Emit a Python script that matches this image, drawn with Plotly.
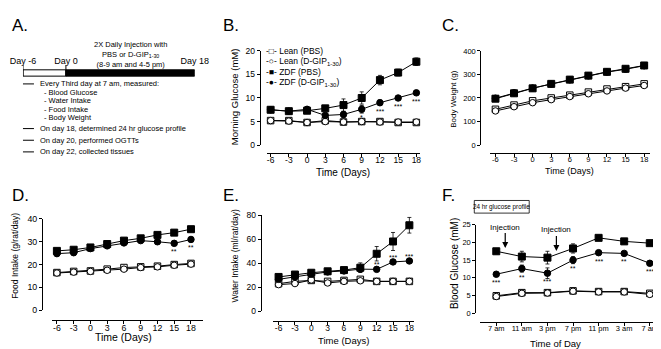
import plotly.graph_objects as go

W, H = 661, 349
FONT = "Liberation Sans, Arial, sans-serif"


def px(x):
    return x / W


def py(y):
    return 1 - y / H


# ---------------- data ----------------
days = [-6, -3, 0, 3, 6, 9, 12, 15, 18]
day_ticklabels = ["-6", "-3", "0", "3", "6", "9", "12", "15", "18"]
series_names = ["Lean (PBS)", "Lean (D-GIP<sub>1-30</sub>)", "ZDF (PBS)", "ZDF (D-GIP<sub>1-30</sub>)"]
legend_glyphs = ["-\u25A1-", "-\u25CB-", "-\u25A0-", "-\u25CF-"]

# B. Morning glucose (mM)
glu_lean_pbs = [5.2, 5.2, 4.8, 5.2, 4.9, 5.0, 5.0, 4.8, 4.8]
glu_lean_gip = [5.2, 5.1, 4.8, 5.0, 4.9, 5.0, 4.9, 4.9, 4.9]
glu_zdf_pbs = [7.5, 7.2, 7.3, 7.8, 8.5, 10.0, 13.8, 15.4, 17.7]
glu_zdf_gip = [7.5, 7.2, 7.6, 6.3, 6.5, 7.6, 9.0, 10.0, 11.1]
glu_err_lean_pbs = [0.2, 0.2, 0.2, 0.2, 0.2, 0.2, 0.2, 0.2, 0.2]
glu_err_lean_gip = [0.2, 0.2, 0.2, 0.2, 0.2, 0.2, 0.2, 0.2, 0.2]
glu_err_zdf_pbs = [0.3, 0.3, 0.5, 0.4, 1.3, 1.3, 1.0, 0.7, 0.8]
glu_err_zdf_gip = [0.3, 0.3, 0.3, 0.5, 0.6, 0.8, 0.6, 0.4, 0.4]
glu_stars = ["", "", "", "", "", "*", "***", "***", "***"]

# C. Body weight (g)
bw_lean_pbs = [152, 170, 188, 200, 212, 225, 238, 248, 260]
bw_lean_gip = [145, 163, 180, 193, 206, 218, 230, 242, 253]
bw_zdf_pbs = [197, 220, 241, 260, 278, 295, 311, 324, 338]
bw_zdf_gip = [199, 222, 242, 259, 277, 294, 310, 322, 337]
bw_err_lean = [4, 4, 4, 4, 4, 4, 4, 4, 4]
bw_err_zdf = [5, 5, 5, 5, 5, 5, 5, 5, 6]

# D. Food intake (g/rat/day)
fi_lean_pbs = [16.5, 17.0, 17.2, 18.0, 18.7, 19.0, 19.3, 20.0, 20.5]
fi_lean_gip = [16.3, 16.7, 17.0, 17.5, 18.0, 18.7, 19.0, 19.7, 20.2]
fi_zdf_pbs = [26.0, 26.5, 27.5, 29.0, 30.5, 31.5, 33.0, 34.0, 35.5]
fi_zdf_gip = [24.8, 25.2, 27.0, 28.2, 29.5, 30.5, 30.0, 29.3, 31.0]
fi_err_lean = [0.5, 0.5, 0.5, 0.5, 0.5, 0.5, 0.5, 0.5, 0.5]
fi_err_zdf = [1.0, 1.0, 1.0, 1.0, 1.0, 1.0, 1.0, 1.0, 1.0]
fi_stars = ["", "", "", "", "", "", "", "**", "**"]

# E. Water intake (ml/rat/day)
wi_lean_pbs = [22.9, 24.8, 25.6, 24.8, 25.6, 26.5, 24.8, 24.8, 24.8]
wi_lean_gip = [22.1, 23.0, 26.0, 23.5, 24.8, 25.3, 24.8, 24.8, 24.8]
wi_zdf_pbs = [28.5, 30.5, 32.0, 33.2, 34.2, 36.2, 47.8, 58.0, 71.5]
wi_zdf_gip = [26.5, 28.5, 30.8, 32.7, 33.5, 35.0, 34.8, 41.0, 41.8]
wi_err_lean = [1.0, 1.0, 1.0, 1.0, 1.0, 1.0, 1.0, 1.0, 1.0]
wi_err_zdf_pbs = [1.5, 1.5, 1.5, 1.5, 2.0, 4.0, 6.0, 7.5, 6.5]
wi_err_zdf_gip = [1.0, 1.0, 1.0, 1.0, 1.0, 1.5, 1.5, 1.5, 1.5]
wi_stars = ["", "", "", "", "", "", "**", "***", "***"]

# F. 24 hr glucose profile (mM)
times = ["7 am", "11 am", "3 pm", "7 pm", "11 pm", "3 am", "7 am"]
time_pos = [0, 1, 2, 3, 4, 5, 6]
f_lean_pbs = [4.9, 5.8, 5.8, 6.3, 6.1, 6.1, 5.6]
f_lean_gip = [4.7, 5.6, 5.7, 6.2, 6.0, 6.0, 5.3]
f_zdf_pbs = [17.5, 16.0, 15.7, 18.3, 21.3, 20.3, 19.8]
f_zdf_gip = [11.0, 12.6, 11.3, 15.0, 17.1, 16.9, 14.1]
f_err_lean = [0.3, 0.3, 0.3, 0.3, 0.3, 0.3, 0.3]
f_err_zdf_pbs = [0.7, 1.5, 1.8, 1.3, 0.5, 0.6, 0.5]
f_err_zdf_gip = [0.5, 1.0, 1.5, 1.0, 0.5, 0.5, 0.6]
f_stars = ["***", "**", "***", "**", "***", "**", "***"]
injection_pos = [0.35, 2.35]   # 8-9 am and 4-5 pm
injection_level = [18.4, 17.6]

# A. Protocol timeline
timeline_days = [-6, 0, 18]
timeline_labels = ["Day -6", "Day 0", "Day 18"]
protocol_items = [
    ("main", "Every Third day at 7 am, measured:"),
    ("sub", "- Blood Glucose"),
    ("sub", "- Water Intake"),
    ("sub", "- Food Intake"),
    ("sub", "- Body Weight"),
    ("main", "On day 18, determined 24 hr glucose profile"),
    ("main", "On day 20, performed OGTTs"),
    ("main", "On day 22, collected tissues"),
]
protocol_rows = [73, 82, 90.5, 99, 107.5, 119, 131, 143]

# ---------------- figure ----------------
fig = go.Figure()
symbols = ["square", "circle", "square", "circle"]
fills = ["white", "white", "black", "black"]
msizes = [6.5, 6.5, 7, 6.5]


def add_panel(n, x, ys, errs):
    xa = "x" if n == 1 else f"x{n}"
    ya = "y" if n == 1 else f"y{n}"
    for i, (yv, ev) in enumerate(zip(ys, errs)):
        fig.add_trace(go.Scatter(
            x=x, y=yv, xaxis=xa, yaxis=ya, mode="lines+markers",
            name=series_names[i], showlegend=False, cliponaxis=False,
            line=dict(color="black", width=1),
            marker=dict(symbol=symbols[i], size=msizes[i], color=fills[i],
                        line=dict(color="black", width=1)),
            error_y=dict(type="data", array=ev, color="black", thickness=0.8, width=2),
        ))


add_panel(1, days, [glu_lean_pbs, glu_lean_gip, glu_zdf_pbs, glu_zdf_gip],
          [glu_err_lean_pbs, glu_err_lean_gip, glu_err_zdf_pbs, glu_err_zdf_gip])
add_panel(2, days, [bw_lean_pbs, bw_lean_gip, bw_zdf_pbs, bw_zdf_gip],
          [bw_err_lean, bw_err_lean, bw_err_zdf, bw_err_zdf])
add_panel(3, days, [fi_lean_pbs, fi_lean_gip, fi_zdf_pbs, fi_zdf_gip],
          [fi_err_lean, fi_err_lean, fi_err_zdf, fi_err_zdf])
add_panel(4, days, [wi_lean_pbs, wi_lean_gip, wi_zdf_pbs, wi_zdf_gip],
          [wi_err_lean, wi_err_lean, wi_err_zdf_pbs, wi_err_zdf_gip])
add_panel(5, time_pos, [f_lean_pbs, f_lean_gip, f_zdf_pbs, f_zdf_gip],
          [f_err_lean, f_err_lean, f_err_zdf_pbs, f_err_zdf_gip])

# hidden timeline axis for panel A (day labels drawn as text on it)
fig.add_trace(go.Scatter(
    x=timeline_days, y=[0.5, 0.5, 0.5], xaxis="x6", yaxis="y6", mode="text",
    text=timeline_labels, textposition="top center",
    textfont=dict(family=FONT, size=9, color="black"),
    showlegend=False, hoverinfo="skip", cliponaxis=False,
))


def axis_pair(xdom, xrange, xline, ydom, yrange, yline, xtickvals, ytickvals,
              tfont, xticktext):
    common = dict(showline=True, linecolor="black", linewidth=1, ticks="outside",
                  ticklen=3, tickwidth=1, tickcolor="black", showgrid=False,
                  zeroline=False, tickfont=dict(family=FONT, size=tfont, color="black"),
                  fixedrange=True)
    xa = dict(domain=[px(xdom[0]), px(xdom[1])], range=xrange, anchor="free",
              position=py(xline), tickvals=xtickvals, ticktext=xticktext,
              ticklabelstandoff=-4, **common)
    ya = dict(domain=[py(ydom[0]), py(ydom[1])], range=yrange, anchor="free",
              position=px(yline), tickvals=ytickvals, **common)
    return xa, ya


xB, yB = axis_pair((259, 413), [-6.66, 18.66], 144, (136, 39), [0, 20], 252,
                   days, [0, 5, 10, 15, 20], 8.5, day_ticklabels)
xC, yC = axis_pair((482.6, 642.7), [-6.9, 18.9], 144, (136, 39), [0, 400], 473,
                   days, [0, 100, 200, 300, 400], 7.5, day_ticklabels)
xD, yD = axis_pair((44, 195), [-6.89, 20.1], 316, (306, 212), [0, 40], 34,
                   days, [0, 10, 20, 30, 40], 8.8, day_ticklabels)
xE, yE = axis_pair((265, 407), [-7.1, 18.92], 317, (307, 208), [0, 80], 253,
                   days, [0, 20, 40, 60, 80], 8.5, day_ticklabels)
xF, yF = axis_pair((473, 653), [-0.625, 6.4], 318, (309, 218), [0, 25], 468,
                   time_pos, [0, 5, 10, 15, 20, 25], 7.5, times)

x6 = dict(domain=[px(15), px(187)], range=[-6, 18], visible=False, anchor="y6",
          fixedrange=True)
y6 = dict(domain=[py(58), py(52)], range=[0, 1], visible=False, anchor="x6",
          fixedrange=True)

ann = []


def text(x, y, t, size, xanchor="center", yanchor="middle", angle=0, **kw):
    ann.append(dict(x=px(x), y=py(y), xref="paper", yref="paper", text=t,
                    showarrow=False, xanchor=xanchor, yanchor=yanchor,
                    textangle=angle, font=dict(family=FONT, size=size, color="black"),
                    **kw))


# panel letters
for lab, x, y in [("A.", 2, 13), ("B.", 213, 13), ("C.", 433, 13),
                  ("D.", 2, 188), ("E.", 213, 188), ("F.", 433, 188)]:
    text(x, y, lab, 17, xanchor="left")

# axis titles
text(227, 86, "Morning Glucose (mM)", 9.5, angle=-90)
text(336, 164, "Time (Days)", 10)
text(446, 88, "Body Weight (g)", 8, angle=-90)
text(562, 163, "Time (Days)", 9)
text(7, 250, "Food Intake (g/rat/day)", 8.5, angle=-90)
text(116, 334, "Time (Days)", 10.5)
text(227, 250, "Water Intake (ml/rat/day)", 8.5, angle=-90)
text(336, 337, "Time (Days)", 9.5)
text(447, 258, "Blood Glucose (mM)", 10, angle=-90)
text(548, 340, "Time of Day", 9.5)

# legend of panel B
for i, (g, nm) in enumerate(zip(legend_glyphs, series_names)):
    text(256, 39 + 10.7 * i, g + " " + nm, 8.5, xanchor="left")


# significance stars
def stars(xref, yref, xs, ys, labels, below=True):
    for xv, yv, s in zip(xs, ys, labels):
        if not s:
            continue
        ann.append(dict(x=xv, y=yv, xref=xref, yref=yref, text=s, showarrow=False,
                        xanchor="center", yanchor="top" if below else "bottom",
                        yshift=-3 if below else -1,
                        font=dict(family=FONT, size=7, color="black")))


stars("x", "y", days, glu_zdf_gip, glu_stars)
stars("x3", "y3", days, fi_zdf_gip, fi_stars)
stars("x4", "y4", days, wi_zdf_gip, wi_stars, below=False)
stars("x5", "y5", time_pos, f_zdf_gip, f_stars)

# injection arrows in F
for xv, yv in zip(injection_pos, injection_level):
    ann.append(dict(x=xv, y=yv, xref="x5", yref="y5", text="Injection",
                    showarrow=True, arrowhead=2, arrowsize=1, arrowwidth=1.2,
                    arrowcolor="black", ax=0, ay=-21, standoff=0,
                    font=dict(family=FONT, size=8, color="black")))

# box label in F
text(494.5, 199.5, "24 hr glucose profile", 6.3)
ann[-1]["font"]["family"] = "Liberation Sans Narrow, Arial Narrow, " + FONT

# panel A texts
ann.append(dict(x=9, y=py(43), xref="x6", yref="paper",
                text="2X Daily Injection with<br>PBS or D-GIP<sub>1-30</sub><br>(8-9 am and 4-5 pm)",
                showarrow=False, xanchor="center", yanchor="middle",
                font=dict(family=FONT, size=7.5, color="black")))
for (kind, t), row in zip(protocol_items, protocol_rows):
    text(30 if kind == "main" else 34, row, t, 7.5, xanchor="left")

shapes = []
# timeline bar
shapes.append(dict(type="rect", xref="x6", yref="paper", x0=timeline_days[0], x1=timeline_days[1],
                   y0=py(65), y1=py(58.5), line=dict(color="black", width=1), fillcolor="white"))
shapes.append(dict(type="rect", xref="x6", yref="paper", x0=timeline_days[1], x1=timeline_days[2],
                   y0=py(65), y1=py(58.5), line=dict(color="black", width=1), fillcolor="black"))
for d in timeline_days[:2]:
    shapes.append(dict(type="line", xref="x6", yref="paper", x0=d, x1=d,
                       y0=py(65), y1=py(53.5), line=dict(color="black", width=1)))
# bullet dashes
for (kind, _), row in zip(protocol_items, protocol_rows):
    if kind == "main":
        shapes.append(dict(type="line", xref="paper", yref="paper", x0=px(15), x1=px(26),
                           y0=py(row), y1=py(row), line=dict(color="black", width=1)))
# F label box
shapes.append(dict(type="rect", xref="paper", yref="paper", x0=px(467), x1=px(522),
                   y0=py(206), y1=py(193), line=dict(color="black", width=0.8)))

fig.update_layout(
    width=W, height=H, margin=dict(l=0, r=0, t=0, b=0),
    paper_bgcolor="white", plot_bgcolor="white", showlegend=False,
    font=dict(family=FONT, color="black"),
    xaxis=xB, yaxis=yB, xaxis2=xC, yaxis2=yC, xaxis3=xD, yaxis3=yD,
    xaxis4=xE, yaxis4=yE, xaxis5=xF, yaxis5=yF, xaxis6=x6, yaxis6=y6,
    annotations=ann, shapes=shapes,
)

fig.write_html("out.html")
